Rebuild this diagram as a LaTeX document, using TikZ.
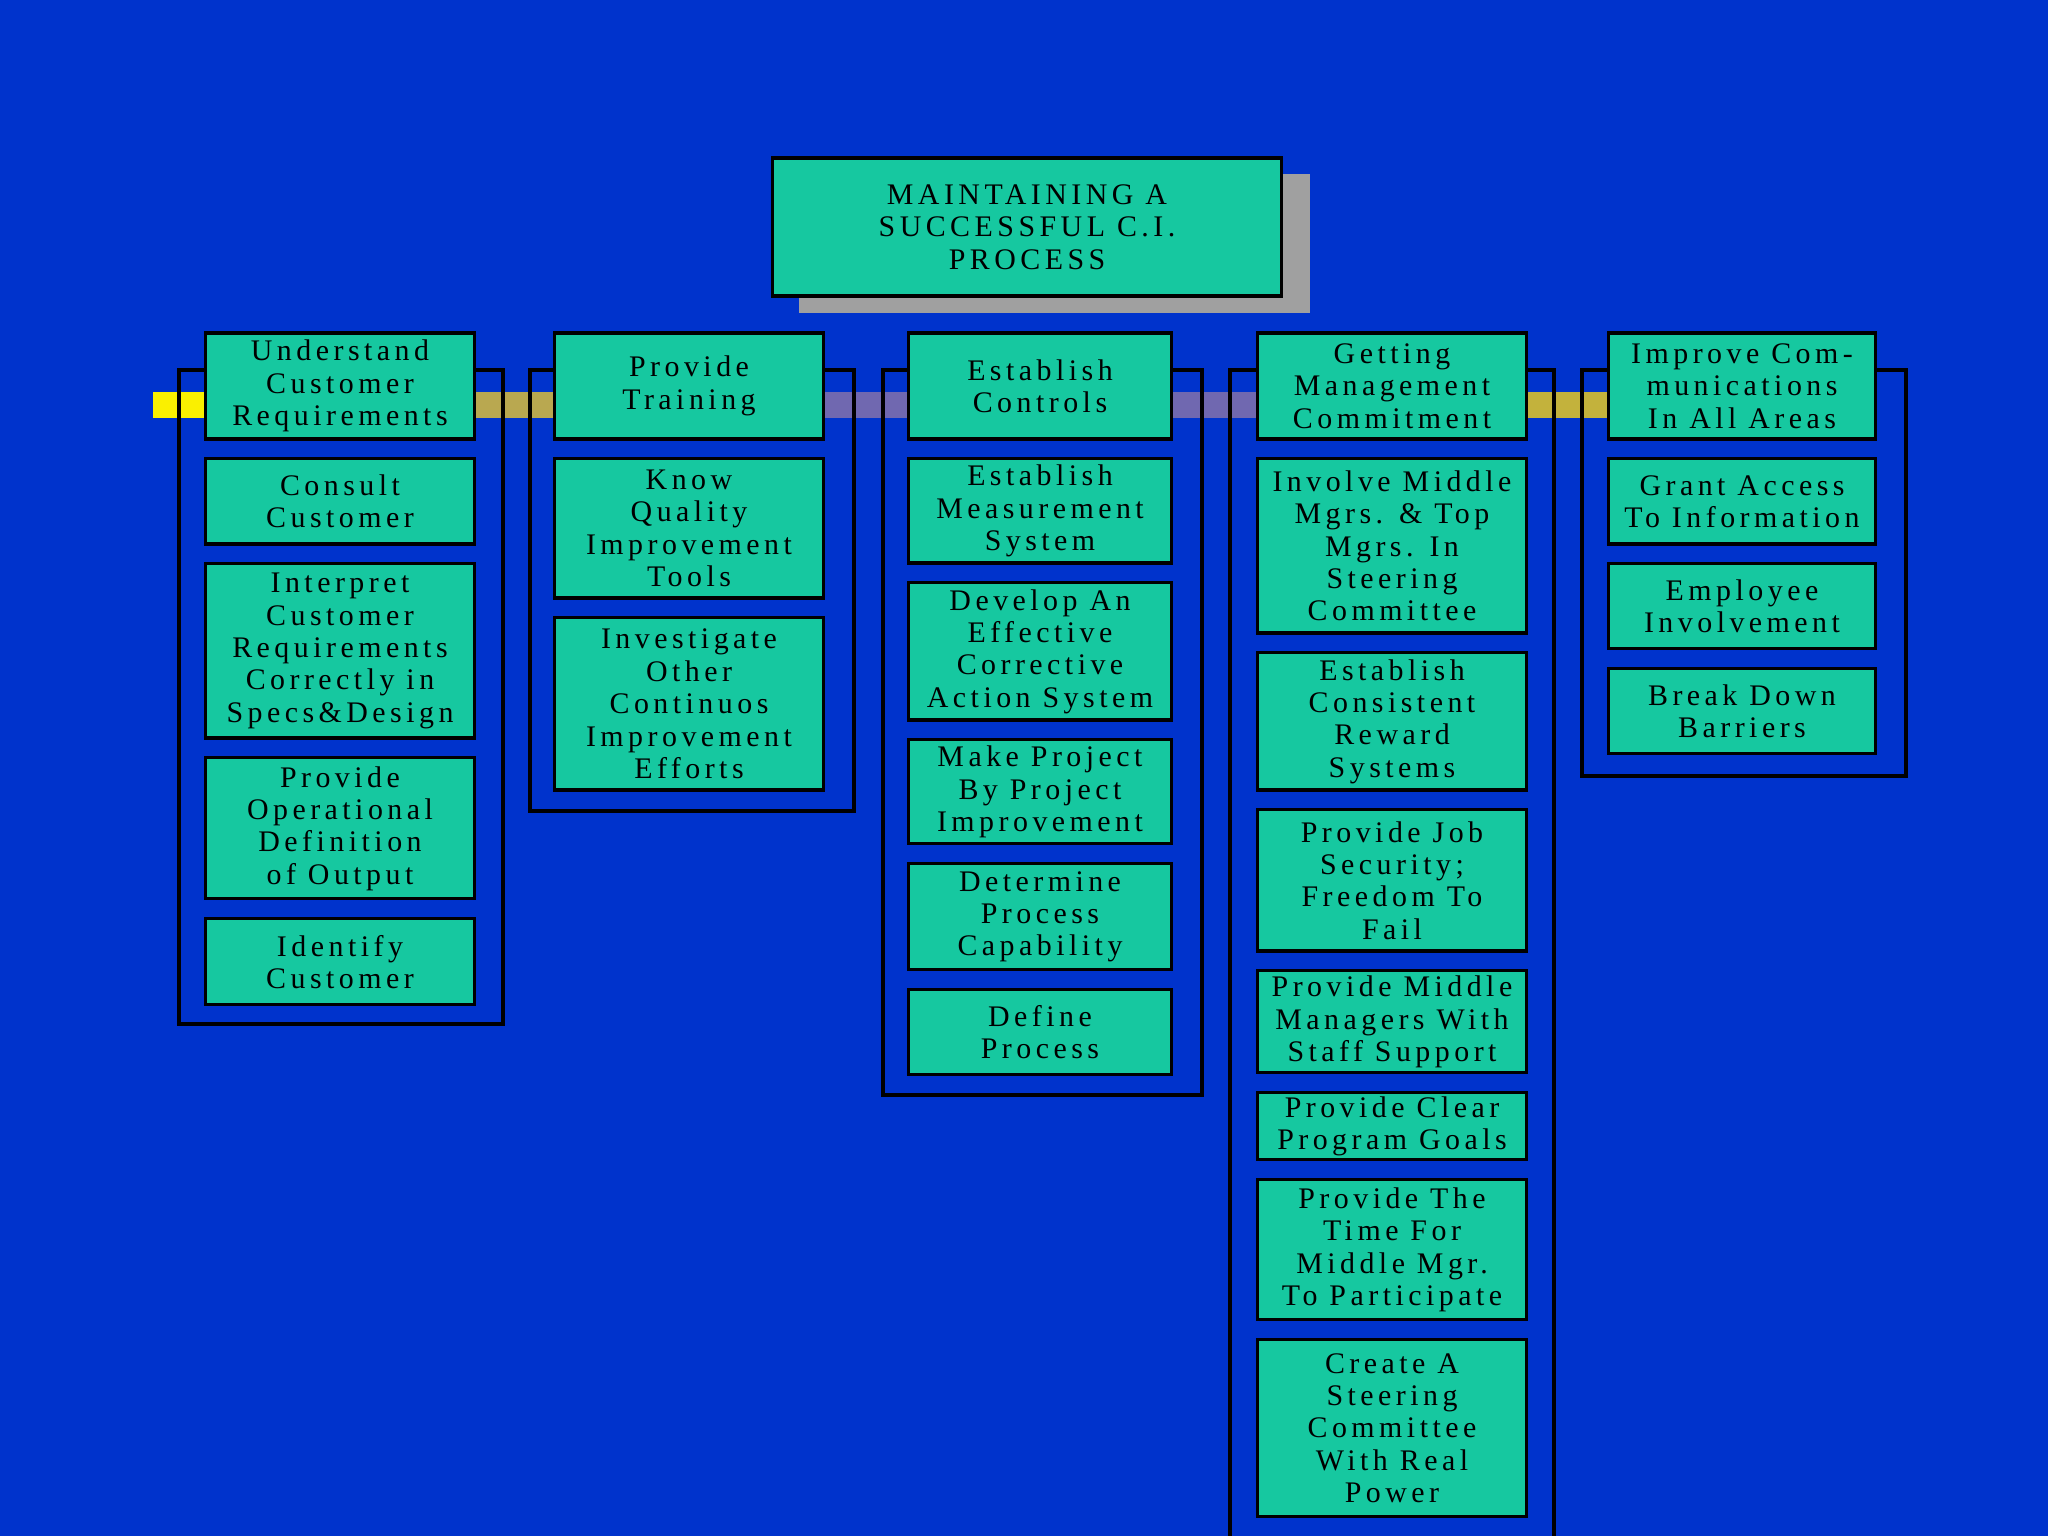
\documentclass[tikz,border=0pt]{standalone}
\usepackage{fontspec}
\newfontfamily\boxfont[LetterSpace=15]{Liberation Serif}
\usetikzlibrary{positioning}
\definecolor{bgblue}{RGB}{0,51,204}
\definecolor{boxgreen}{RGB}{22,200,160}
\definecolor{shadowgray}{RGB}{160,160,160}
\definecolor{baryellow}{RGB}{250,240,0}
\definecolor{bartan}{RGB}{185,168,80}
\definecolor{barpurple}{RGB}{112,104,176}
\definecolor{bargold}{RGB}{195,178,60}

\begin{document}
\begin{tikzpicture}[
    x=0.01cm, y=-0.01cm,
    % Node styles
    task/.style={rectangle, draw=black, line width=0.9pt, fill=boxgreen, align=center, inner sep=0pt, minimum width=2.69cm, font=\boxfont\fontsize{8.5}{9.2}\selectfont},
    narrow/.style={task, minimum width=2.63cm},
    frame/.style={draw=black, line width=0.9pt},
    gap/.style={below=0.167cm of #1},
]

% Background
\useasboundingbox (0,0) rectangle (2048,1536);
\fill[bgblue] (0,0) rectangle (2048,1536);

% ============================================================================
% BAR AND COLUMN FRAMES
% ============================================================================
\fill[baryellow] (153,392) rectangle (206,418);
\fill[bartan] (206,392) rectangle (560,418);
\fill[barpurple] (820,392) rectangle (1262,418);
\fill[bargold] (1522,392) rectangle (1612,418);

\draw[frame] (179,370) rectangle (503,1024);
\draw[frame] (530,370) rectangle (854,811);
\draw[frame] (883,370) rectangle (1202,1095);
\draw[frame] (1230,1536) -- (1230,370) -- (1554,370) -- (1554,1536);
\draw[frame] (1582,370) rectangle (1906,776);

% ============================================================================
% TITLE
% ============================================================================
\fill[shadowgray] (799,174) rectangle (1310,313);
\node[task, minimum width=5.08cm, minimum height=1.38cm] (title) at (1027,227) {MAINTAINING A\\SUCCESSFUL C.I.\\PROCESS};

% ============================================================================
% COLUMN 1: CUSTOMER
% ============================================================================
\node[task, minimum height=1.06cm] (c1a) at (340,386) {Understand\\Customer\\Requirements};
\node[task, minimum height=0.85cm, gap=c1a] (c1b) {Consult\\Customer};
\node[task, minimum height=1.74cm, gap=c1b] (c1c) {Interpret\\Customer\\Requirements\\Correctly in\\Specs\&Design};
\node[task, minimum height=1.41cm, gap=c1c] (c1d) {Provide\\Operational\\Definition\\of Output};
\node[task, minimum height=0.86cm, gap=c1d] (c1e) {Identify\\Customer};

% ============================================================================
% COLUMN 2: TRAINING
% ============================================================================
\node[task, minimum height=1.06cm] (c2a) at (689,386) {Provide\\Training};
\node[task, minimum height=1.39cm, gap=c2a] (c2b) {Know\\Quality\\Improvement\\Tools};
\node[task, minimum height=1.72cm, gap=c2b] (c2c) {Investigate\\Other\\Continuos\\Improvement\\Efforts};

% ============================================================================
% COLUMN 3: CONTROLS
% ============================================================================
\node[narrow, minimum height=1.06cm] (c3a) at (1040,386) {Establish\\Controls};
\node[narrow, minimum height=1.04cm, gap=c3a] (c3b) {Establish\\Measurement\\System};
\node[narrow, minimum height=1.37cm, gap=c3b] (c3c) {Develop An\\Effective\\Corrective\\Action System};
\node[narrow, minimum height=1.04cm, gap=c3c] (c3d) {Make Project\\By Project\\Improvement};
\node[narrow, minimum height=1.06cm, gap=c3d] (c3e) {Determine\\Process\\Capability};
\node[narrow, minimum height=0.85cm, gap=c3e] (c3f) {Define\\Process};

% ============================================================================
% COLUMN 4: MANAGEMENT
% ============================================================================
\node[task, minimum height=1.06cm] (c4a) at (1392,386) {Getting\\Management\\Commitment};
\node[task, minimum height=1.74cm, gap=c4a] (c4b) {Involve Middle\\Mgrs. \& Top\\Mgrs. In\\Steering\\Committee};
\node[task, minimum height=1.37cm, gap=c4b] (c4c) {Establish\\Consistent\\Reward\\Systems};
\node[task, minimum height=1.41cm, gap=c4c] (c4d) {Provide Job\\Security;\\Freedom To\\Fail};
\node[task, minimum height=1.02cm, gap=c4d] (c4e) {Provide Middle\\Managers With\\Staff Support};
\node[task, minimum height=0.67cm, gap=c4e] (c4f) {Provide Clear\\Program Goals};
\node[task, minimum height=1.40cm, gap=c4f] (c4g) {Provide The\\Time For\\Middle Mgr.\\To Participate};
\node[task, minimum height=1.77cm, gap=c4g] (c4h) {Create A\\Steering\\Committee\\With Real\\Power};

% ============================================================================
% COLUMN 5: COMMUNICATIONS
% ============================================================================
\node[task, minimum width=2.67cm, minimum height=1.06cm] (c5a) at (1742,386) {Improve Com-\\munications\\In All Areas};
\node[task, minimum width=2.67cm, minimum height=0.85cm, gap=c5a] (c5b) {Grant Access\\To Information};
\node[task, minimum width=2.67cm, minimum height=0.85cm, gap=c5b] (c5c) {Employee\\Involvement};
\node[task, minimum width=2.67cm, minimum height=0.85cm, gap=c5c] (c5d) {Break Down\\Barriers};

\end{tikzpicture}
\end{document}
